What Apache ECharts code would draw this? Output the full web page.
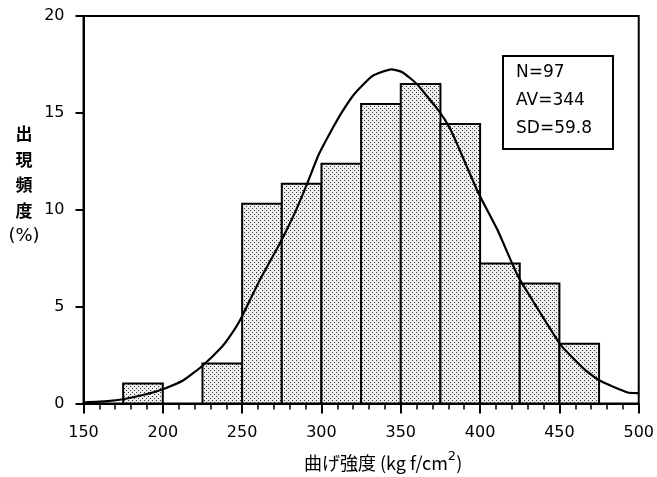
<!DOCTYPE html>
<html>
<head>
<meta charset="utf-8">
<script src="https://cdn.jsdelivr.net/npm/echarts@6/dist/echarts.min.js"></script>
<style>html,body{margin:0;padding:0;background:#fff}#c{width:657px;height:477px}</style>
</head>
<body>
<div id="c"></div>
<script>
// Histogram bins (kg f/cm2) and frequency (%)
var binStarts = [175, 225, 250, 275, 300, 325, 350, 375, 400, 425, 450];
var binEnds   = [200, 250, 275, 300, 325, 350, 375, 400, 425, 450, 475];
var freq      = [1.03, 2.06, 10.31, 11.34, 12.37, 15.46, 16.49, 14.43, 7.22, 6.19, 3.09];

// Fitted curve
var curveX = [150, 165, 175, 188, 200, 213, 225, 237, 243, 249, 261, 274, 283, 291, 298, 306, 313, 321, 332, 344, 351, 360, 374, 381, 386, 399, 411, 424, 437, 451, 466, 475, 493, 500];
var curveY = [0.05, 0.12, 0.22, 0.45, 0.74, 1.2, 1.95, 2.9, 3.55, 4.35, 6.35, 8.3, 9.8, 11.35, 12.8, 14.05, 15.05, 16.0, 16.9, 17.25, 17.1, 16.5, 15.1, 14.2, 13.3, 10.85, 8.95, 6.55, 4.8, 3.0, 1.75, 1.2, 0.57, 0.54];

var xTicks = [150, 200, 250, 300, 350, 400, 450, 500];
var yTicks = [0, 5, 10, 15, 20];
var statsLines = ['N=97', 'AV=344', 'SD=59.8'];
var yTitleChars = ['出', '現', '頻', '度', '(%)'];

var pc = document.createElement('canvas');
pc.width = 4; pc.height = 4;
var g = pc.getContext('2d');
g.fillStyle = '#eeeeee'; g.fillRect(0, 0, 4, 4);
g.fillStyle = '#333';
g.fillRect(0, 0, 1, 1); g.fillRect(2, 2, 1, 1);
var pattern = { image: pc, repeat: 'repeat' };

var barData = binStarts.map(function (s, i) { return [s, binEnds[i], freq[i]]; });
var curveData = curveX.map(function (x, i) { return [x, curveY[i]]; });

var chart = echarts.init(document.getElementById('c'), null, { renderer: 'canvas' });

var graphics = [];
yTitleChars.forEach(function (t, i) {
  graphics.push({
    type: 'text', x: 24, y: 134 + i * 25.5,
    style: { text: t, x: 0, y: 0, align: 'center', verticalAlign: 'middle',
      font: (i < 4 ? 'bold 17px "Noto Sans CJK JP"' : '18px "DejaVu Sans"'), fill: '#000' }
  });
});
graphics.push({
  type: 'rect', shape: { x: 503, y: 56, width: 110, height: 93 },
  style: { fill: '#fff', stroke: '#000', lineWidth: 2 }, z: 100
});
statsLines.forEach(function (t, i) {
  graphics.push({
    type: 'text', x: 516, y: 73 + i * 28, z: 101,
    style: { text: t, align: 'left', verticalAlign: 'middle', font: '17px "DejaVu Sans"', fill: '#000' }
  });
});

var axisLabelStyle = { color: '#000', fontSize: 16, fontFamily: 'DejaVu Sans' };

chart.setOption({
  animation: false,
  backgroundColor: '#fff',
  grid: { left: 83.5, right: 16, top: 16, bottom: 73, show: true, borderColor: '#000', borderWidth: 2, backgroundColor: 'transparent' },
  xAxis: {
    type: 'value', min: xTicks[0], max: xTicks[xTicks.length - 1], interval: 50,
    axisLine: { show: true, onZero: false, lineStyle: { color: '#000', width: 2 } },
    axisTick: { show: true, inside: false, length: 10, lineStyle: { color: '#000', width: 2 } },
    minorTick: { show: true, splitNumber: 5, length: 6, lineStyle: { color: '#000', width: 1.5 } },
    splitLine: { show: false },
    minorSplitLine: { show: false },
    axisLabel: Object.assign({ margin: 21 }, axisLabelStyle),
    name: '曲げ強度 (kg f/cm{sup|2})',
    nameLocation: 'middle', nameGap: 47,
    nameTextStyle: {
      color: '#000', fontSize: 18, fontFamily: '"Noto Sans CJK JP", "DejaVu Sans"', padding: [0, 0, 0, 44],
      rich: { sup: { fontSize: 13, fontFamily: 'DejaVu Sans', padding: [0, 0, 12, 0], color: '#000' } }
    }
  },
  yAxis: {
    type: 'value', min: yTicks[0], max: yTicks[yTicks.length - 1], interval: 5,
    axisLine: { show: true, lineStyle: { color: '#000', width: 2 } },
    axisTick: { show: true, inside: false, length: 8, lineStyle: { color: '#000', width: 2 } },
    minorTick: { show: false },
    splitLine: { show: false },
    axisLabel: Object.assign({ margin: 19 }, axisLabelStyle)
  },
  graphic: graphics,
  series: [
    {
      type: 'custom',
      data: barData,
      encode: { x: [0, 1], y: 2 },
      z: 2,
      renderItem: function (params, api) {
        var s = api.coord([api.value(0), 0]);
        var e = api.coord([api.value(1), api.value(2)]);
        return {
          type: 'rect',
          shape: { x: s[0], y: e[1], width: e[0] - s[0], height: s[1] - e[1] },
          style: { fill: pattern, stroke: '#000', lineWidth: 2 }
        };
      }
    },
    {
      type: 'line',
      data: curveData,
      showSymbol: false,
      smooth: 0.15,
      z: 5,
      lineStyle: { color: '#000', width: 2.2 }
    }
  ]
});
</script>
</body>
</html>
